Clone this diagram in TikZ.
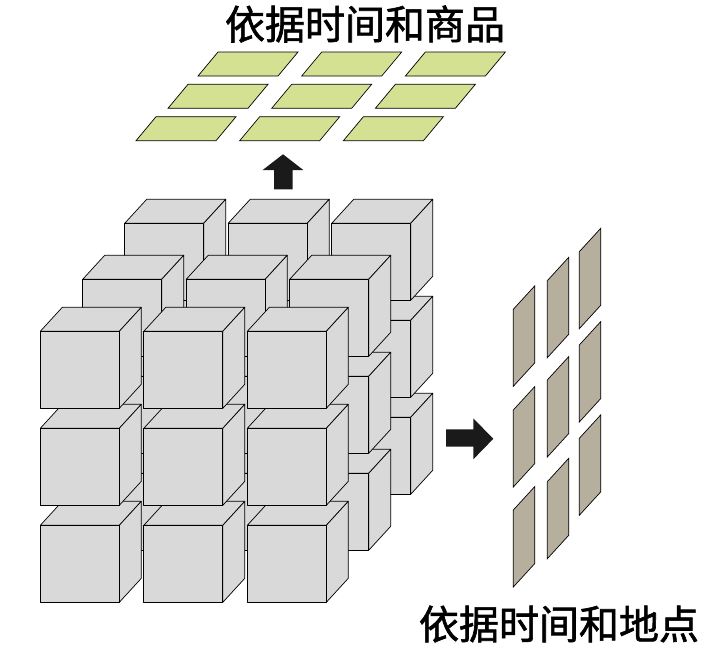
\documentclass[tikz,border=0pt]{standalone}
\usepackage{fontspec}
\newfontfamily\cjk[FakeBold=1.5]{Noto Sans CJK SC}
\begin{document}
\begin{tikzpicture}[x=1pt,y=-1pt,
  cubef/.style={draw=black,fill=cubegray,line width=0.7pt,line join=round},
  greenp/.style={draw=black,fill=planegreen,line width=0.7pt},
  brownp/.style={draw=black,fill=planebrown,line width=0.7pt},
  bigarrow/.style={fill=arrowblack,draw=none}]
\definecolor{cubegray}{HTML}{D9D9D9}
\definecolor{planegreen}{HTML}{D4E193}
\definecolor{planebrown}{HTML}{B6AF9D}
\definecolor{arrowblack}{HTML}{1A1A1A}
\useasboundingbox (0,0) rectangle (706,646);
\newcommand\mycube[2]{%
  \filldraw[cubef] (#1,#2) -- ++(22,-24) -- ++(79,0) -- ++(-22,24) -- cycle;
  \filldraw[cubef] (#1+79,#2) -- ++(22,-24) -- ++(0,77) -- ++(-22,24) -- cycle;
  \filldraw[cubef] (#1,#2) rectangle ++(79,77);}
\foreach \lx/\ly in {124.7/223.3, 82.7/279.3, 40.3/331.3}{
  \foreach \r in {2,1,0}{
    \foreach \c in {2,1,0}{
      \mycube{\lx+103.5*\c}{\ly+97*\r}
    }}}
% top planes
\foreach \bx/\by in {198/76, 168/108.3, 136/140.7}{
  \foreach \c in {0,1,2}{
    \filldraw[greenp] (\bx+103.7*\c,\by) -- ++(80,0) -- ++(20,-24) -- ++(-80,0) -- cycle;
  }}
% right planes
\foreach \cx/\ya/\yb/\yc in {513.3/309.3/410/510, 547.3/280.7/380/481.7, 579.3/251.7/345/438.3}{
  \foreach \yy in {\ya,\yb,\yc}{
    \filldraw[brownp] (\cx,\yy) -- ++(21.5,-23.5) -- ++(0,77) -- ++(-21.5,23.5) -- cycle;
  }}
% arrows
\fill[bigarrow] (283,154.3) -- (303.3,170) -- (292.7,170) -- (292.7,189.3) -- (274,189.3) -- (274,170) -- (262.7,170) -- cycle;
\fill[bigarrow] (446,429.3) -- (473.3,429.3) -- (473.3,418.3) -- (493.3,438.8) -- (473.3,459.3) -- (473.3,446.7) -- (446,446.7) -- cycle;
\node[font=\cjk\fontsize{40}{44}\selectfont,inner sep=0pt] (t1) at (365,24) {依据时间和商品};
\node[font=\cjk\fontsize{40}{44}\selectfont,inner sep=0pt] (t2) at (559,624) {依据时间和地点};
\end{tikzpicture}
\end{document}
